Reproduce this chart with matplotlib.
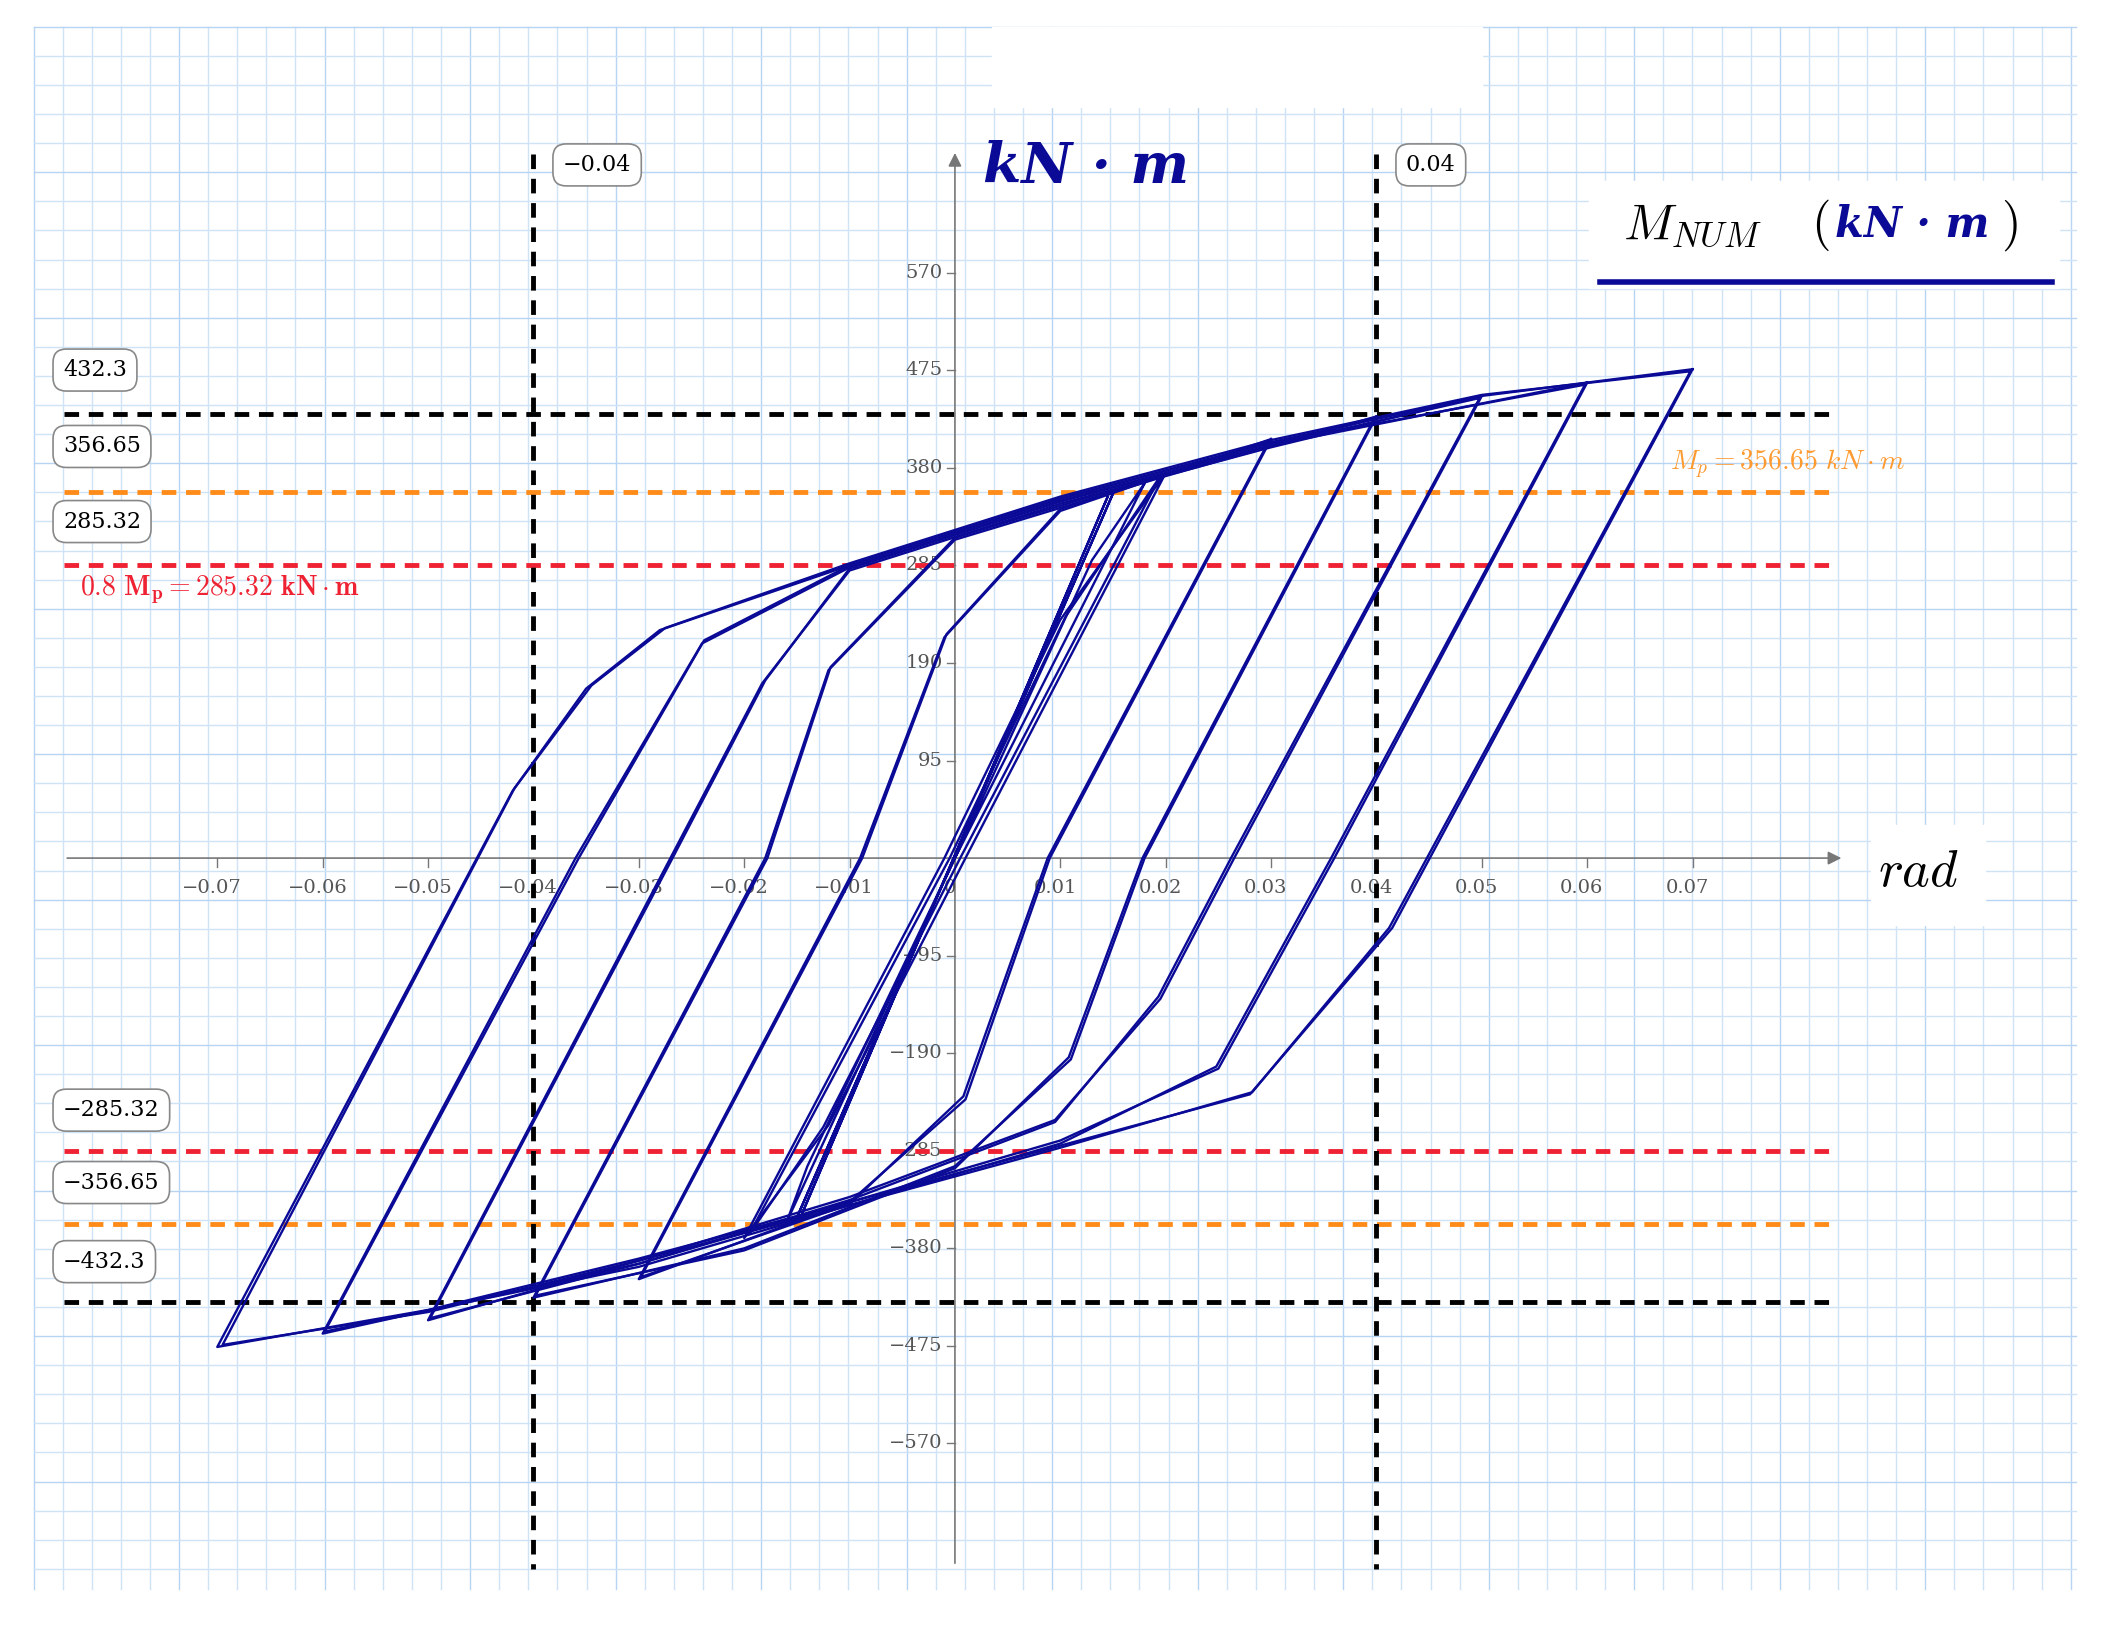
import matplotlib
matplotlib.use("Agg")
import matplotlib.pyplot as plt
import numpy as np
from matplotlib.patches import Rectangle

plt.rcParams['mathtext.fontset'] = 'cm'

# ---- data (rad, kN·m) ----
loop_x = [
    [0.07, 0.0415, 0.028, 0.01, -0.01, -0.03, -0.05, -0.07, -0.042, -0.035, -0.028, -0.01, 0.01, 0.03, 0.05, 0.07],
    [0.0698, 0.0412, 0.0282, 0.01, -0.01, -0.03, -0.05, -0.0695, -0.0418, -0.0345, -0.0275, -0.01, 0.01, 0.03, 0.05, 0.0698],
    [0.06, 0.036, 0.025, 0.01, -0.01, -0.03, -0.06, -0.036, -0.024, -0.01, 0.01, 0.03, 0.06],
    [0.0598, 0.0357, 0.0248, 0.01, -0.01, -0.03, -0.0598, -0.0357, -0.0238, -0.01, 0.01, 0.03, 0.0598],
    [0.05, 0.0265, 0.0195, 0.0095, -0.01, -0.03, -0.05, -0.027, -0.0183, -0.01, 0.01, 0.03, 0.05],
    [0.0498, 0.0262, 0.0193, 0.0095, -0.01, -0.03, -0.0498, -0.0268, -0.018, -0.01, 0.01, 0.03, 0.0498],
    [0.04, 0.018, 0.011, 0.0, -0.02, -0.04, -0.018, -0.012, 0.0, 0.02, 0.04],
    [0.0398, 0.0178, 0.0108, 0.0, -0.02, -0.0398, -0.0178, -0.0118, 0.0, 0.02, 0.0398],
    [0.03, 0.009, 0.001, -0.01, -0.03, -0.009, -0.001, 0.01, 0.03],
    [0.0298, 0.0088, 0.0008, -0.01, -0.0298, -0.0088, -0.0008, 0.01, 0.0298],
    [0.02, 0.001, -0.012, -0.02, -0.001, 0.01, 0.02],
    [0.0195, 0.0005, -0.0125, -0.0195, -0.0005, 0.0105, 0.0195],
    [0.018, 0.0, -0.014, -0.016, 0.0, 0.013, 0.018],
    [0.015, -0.015, 0.015],
    [0.0145, -0.0145, 0.0145],
]
loop_y = [
    [476, -68, -230, -280, -335, -390, -440, -476, 65, 165, 222, 285, 350, 405, 450, 476],
    [474, -68, -228, -282, -338, -392, -442, -474, 68, 168, 224, 287, 352, 407, 451, 474],
    [463, 0, -205, -275, -335, -395, -463, 0, 209, 283, 348, 402, 463],
    [461, 0, -203, -278, -338, -398, -461, 0, 212, 285, 350, 404, 461],
    [450, 0, -137, -255, -330, -392, -450, 0, 170, 280, 345, 400, 450],
    [448, 0, -135, -257, -333, -395, -448, 0, 173, 282, 347, 402, 448],
    [430, 0, -196, -300, -380, -428, 0, 183, 310, 372, 430],
    [428, 0, -194, -302, -382, -426, 0, 186, 312, 374, 428],
    [408, 0, -235, -335, -410, 0, 215, 338, 408],
    [406, 0, -232, -337, -408, 0, 218, 340, 406],
    [375, 0, -260, -370, 0, 232, 375],
    [372, 0, -262, -366, 0, 235, 372],
    [365, 0, -300, -355, 0, 290, 365],
    [355, -350, 355],
    [352, -346, 352],
]

x_ticks = [-0.07, -0.06, -0.05, -0.04, -0.03, -0.02, -0.01, 0, 0.01, 0.02, 0.03, 0.04, 0.05, 0.06, 0.07]
x_tick_labels = ['−0.07', '−0.06', '−0.05', '−0.04', '−0.03', '−0.02', '−0.01', '0', '0.01', '0.02', '0.03', '0.04', '0.05', '0.06', '0.07']
y_ticks = [570, 475, 380, 285, 190, 95, -95, -190, -285, -380, -475, -570]
y_tick_labels = ['570', '475', '380', '285', '190', '95', '−95', '−190', '−285', '−380', '−475', '−570']

h_levels = [432.3, 356.65, 285.32, -285.32, -356.65, -432.3]
h_colors = ['black', '#ff8c1a', '#ee2233', '#ee2233', '#ff8c1a', 'black']
h_labels = ['432.3', '356.65', '285.32', '−285.32', '−356.65', '−432.3']
v_levels = [-0.04, 0.04]
v_labels = ['−0.04', '0.04']

# ---- mapping: displayed px (1568x1212) ----
SX, X0 = 7857.0, 712.0
SY, Y0 = 0.766, 640.0
W, H = 1568.0, 1212.0
def dx(px): return (px - X0) / SX
def dy(py): return (Y0 - py) / SY

fig = plt.figure(figsize=(21.03, 16.25), dpi=100)
ax = fig.add_axes([0, 0, 1, 1])
ax.set_xlim(dx(0), dx(W))
ax.set_ylim(dy(H), dy(0))
ax.axis('off')

# grid paper
step = 21.7
gx = np.arange(25, 1549, step)
gy = np.arange(20, 1186, step)
for i, p in enumerate(gx):
    ax.plot([dx(p)] * 2, [dy(20), dy(1185)], color='#cfe3f7' if i % 5 else '#b7d4f2', lw=1.0, zorder=0)
for i, p in enumerate(gy):
    ax.plot([dx(25), dx(1548)], [dy(p)] * 2, color='#cfe3f7' if i % 5 else '#b7d4f2', lw=1.0, zorder=0)
ax.add_patch(Rectangle((dx(740), dy(80)), dx(1105) - dx(740), dy(20) - dy(80), color='white', zorder=0.5))
ax.add_patch(Rectangle((dx(1185), dy(215)), dx(1535) - dx(1185), dy(135) - dy(215), color='white', zorder=0.5))
ax.add_patch(Rectangle((dx(1395), dy(690)), dx(1480) - dx(1395), dy(615) - dy(690), color='white', zorder=0.5))

# axes
ax.annotate('', xy=(dx(1375), 0), xytext=(dx(48), 0),
            arrowprops=dict(arrowstyle='-|>', color='#777777', lw=1.2, mutation_scale=20), zorder=1)
ax.annotate('', xy=(0, dy(112)), xytext=(0, dy(1168)),
            arrowprops=dict(arrowstyle='-|>', color='#777777', lw=1.2, mutation_scale=20), zorder=1)
for t, l in zip(x_ticks, x_tick_labels):
    ax.plot([t, t], [0, dy(647)], color='#777777', lw=1, zorder=1)
    ax.text(t - 0.0005, dy(662), l, ha='center', va='center', fontsize=14, color='#555555', family='serif')
for t, l in zip(y_ticks, y_tick_labels):
    ax.plot([dx(706), 0], [t, t], color='#777777', lw=1, zorder=1)
    ax.text(dx(703), t, l, ha='right', va='center', fontsize=14, color='#555555', family='serif')

# reference lines
for lv, c in zip(h_levels, h_colors):
    ax.plot([dx(48), dx(1370)], [lv, lv], color=c, lw=3.5, ls=(0, (3, 2)), zorder=3)
for lv in v_levels:
    ax.plot([lv, lv], [dy(115), dy(1170)], color='black', lw=3.5, ls=(0, (3, 2)), zorder=3)

# hysteresis loops
for xs, ys in zip(loop_x, loop_y):
    ax.plot(xs, ys, color='#0a0a96', lw=1.7, zorder=4)

box = dict(boxstyle='round,pad=0.45,rounding_size=0.6', fc='white', ec='#888888', lw=1.2)
pos = {432.3: 276, 356.65: 333, 285.32: 389, -285.32: 828, -356.65: 882, -432.3: 941}
for lv, l in zip(h_levels, h_labels):
    ax.text(dx(47), dy(pos[lv]), l, ha='left', va='center', fontsize=16, family='serif', bbox=box, zorder=6)
for lv, l in zip(v_levels, v_labels):
    ax.text(lv + dx(420) - dx(398), dy(123), l, ha='left', va='center', fontsize=16, family='serif', bbox=box, zorder=6)

ax.text(dx(60), dy(440), r'$\mathbf{0.8}\ \mathbf{M_p = 285.32}\ \mathbf{kN \cdot m}$', color='#ee2233', fontsize=20, va='center', zorder=6)
ax.text(dx(1245), dy(346), r'$M_p = 356.65\ kN \cdot m$', color='#ff9a30', fontsize=20, va='center', zorder=6)
ax.text(dx(733), dy(125), 'kN · m', color='#0a0a96', fontsize=40, va='center', ha='left',
        family='DejaVu Serif', fontstyle='italic', fontweight='bold', zorder=6)
ax.text(dx(1400), dy(650), r'$rad$', fontsize=38, va='center', ha='left', zorder=6)
ax.text(dx(1210), dy(168), r'$M_{NUM}$', fontsize=36, va='center', ha='left', zorder=6)
ax.text(dx(1350), dy(168), r'$($', fontsize=36, va='center', ha='left', zorder=6)
ax.text(dx(1368), dy(168), 'kN · m', color='#0a0a96', fontsize=30, va='center', ha='left',
        family='DejaVu Serif', fontstyle='italic', fontweight='bold', zorder=6)
ax.text(dx(1492), dy(168), r'$)$', fontsize=36, va='center', ha='left', zorder=6)
ax.plot([dx(1193), dx(1530)], [dy(210), dy(210)], color='#0a0a96', lw=4, zorder=6)

fig.savefig('out.png', dpi=100, facecolor='white')
